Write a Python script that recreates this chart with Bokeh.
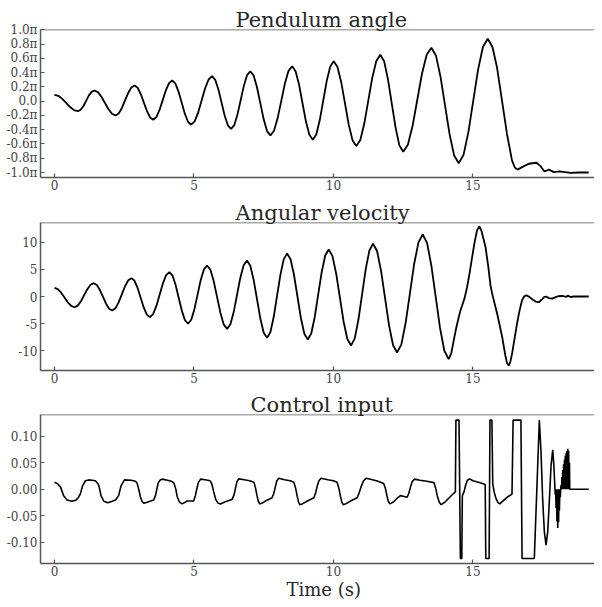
from bokeh.plotting import figure
from bokeh.models import Range1d, Span, Title, FixedTicker, CustomJSTickFormatter
from bokeh.layouts import column
from bokeh.embed import file_html
from bokeh.resources import INLINE

# ---------------- data ----------------
x_ticks = [0, 5, 10, 15]
angle_ticks = [-1.0, -0.8, -0.6, -0.4, -0.2, 0.0, 0.2, 0.4, 0.6, 0.8, 1.0]
vel_ticks = [-10, -5, 0, 5, 10]
ctl_ticks = [-0.10, -0.05, 0.0, 0.05, 0.10]

titles = ["Pendulum angle", "Angular velocity", "Control input"]
x_label = "Time (s)"

# pendulum angle, in units of pi
ang_t = [0.0, 0.14, 0.28, 0.42, 0.56, 0.70, 0.84,
         0.94, 1.04, 1.135, 1.23, 1.33, 1.43,
         1.557, 1.683, 1.81, 1.937, 2.063, 2.19,
         2.303, 2.417, 2.53, 2.643, 2.757, 2.87,
         2.982, 3.093, 3.205, 3.317, 3.428, 3.54,
         3.653, 3.767, 3.88, 3.993, 4.107, 4.22,
         4.333, 4.447, 4.56, 4.673, 4.787, 4.90,
         5.025, 5.15, 5.275, 5.40, 5.525, 5.65,
         5.763, 5.877, 5.99, 6.103, 6.217, 6.33,
         6.445, 6.56, 6.675, 6.79, 6.905, 7.02,
         7.14, 7.26, 7.38, 7.50, 7.62, 7.74,
         7.87, 8.00, 8.13, 8.26, 8.39, 8.52,
         8.643, 8.767, 8.89, 9.013, 9.137, 9.26,
         9.385, 9.51, 9.635, 9.76, 9.885, 10.01,
         10.145, 10.28, 10.415, 10.55, 10.685, 10.82,
         10.963, 11.107, 11.25, 11.393, 11.537, 11.68,
         11.817, 11.953, 12.09, 12.227, 12.363, 12.50,
         12.668, 12.837, 13.005, 13.173, 13.342, 13.51,
         13.673, 13.837, 14.0, 14.163, 14.327, 14.49,
         14.663, 14.837, 15.01, 15.183, 15.357, 15.53,
         15.70, 15.86, 16.04, 16.22, 16.40, 16.50, 16.60, 16.76, 17.0, 17.28,
         17.42, 17.56, 17.64, 17.72, 17.9, 18.1, 18.3, 18.5, 18.8, 19.15]
ang_v = [0.09, 0.075, 0.0325, -0.025, -0.0825, -0.125, -0.14,
         -0.121, -0.0675, 0.005, 0.0775, 0.1306, 0.15,
         0.1265, 0.0625, -0.025, -0.1125, -0.1766, -0.20,
         -0.172, -0.095, 0.01, 0.115, 0.192, 0.22,
         0.188, 0.10, -0.02, -0.14, -0.228, -0.26,
         -0.223, -0.1225, 0.015, 0.1525, 0.253, 0.29,
         0.2485, 0.135, -0.02, -0.175, -0.2885, -0.33,
         -0.284, -0.16, 0.01, 0.18, 0.304, 0.35,
         0.300, 0.165, -0.02, -0.205, -0.340, -0.39,
         -0.336, -0.1875, 0.015, 0.2175, 0.3657, 0.42,
         0.360, 0.195, -0.03, -0.255, -0.4197, -0.48,
         -0.415, -0.2375, 0.005, 0.2475, 0.425, 0.49,
         0.421, 0.2325, -0.025, -0.2825, -0.471, -0.54,
         -0.466, -0.265, 0.01, 0.285, 0.4863, 0.56,
         0.480, 0.2625, -0.035, -0.3325, -0.550, -0.63,
         -0.544, -0.31, 0.01, 0.33, 0.564, 0.65,
         0.559, 0.31, -0.03, -0.37, -0.619, -0.71,
         -0.612, -0.345, 0.02, 0.385, 0.652, 0.75,
         0.6415, 0.345, -0.06, -0.465, -0.761, -0.87,
         -0.753, -0.4335, 0.003, 0.4395, 0.759, 0.876,
         0.76, 0.48, 0.01, -0.46, -0.83, -0.93, -0.96, -0.925, -0.877, -0.863,
         -0.91, -0.985, -0.975, -0.96, -0.994, -0.985, -0.995, -1.005, -1.0, -1.0]

# angular velocity
vel_t = [0.0, 0.12, 0.24, 0.36, 0.48, 0.60, 0.72,
         0.835, 0.95, 1.065, 1.18, 1.295, 1.41,
         1.52, 1.63, 1.74, 1.85, 1.96, 2.07,
         2.185, 2.30, 2.415, 2.53, 2.645, 2.76,
         2.87, 2.98, 3.09, 3.20, 3.31, 3.42,
         3.537, 3.653, 3.77, 3.887, 4.003, 4.12,
         4.232, 4.343, 4.455, 4.567, 4.678, 4.79,
         4.903, 5.017, 5.13, 5.243, 5.357, 5.47,
         5.59, 5.71, 5.83, 5.95, 6.07, 6.19,
         6.308, 6.427, 6.545, 6.663, 6.782, 6.90,
         7.02, 7.14, 7.26, 7.38, 7.50, 7.62,
         7.74, 7.86, 7.98, 8.10, 8.22, 8.34,
         8.463, 8.587, 8.71, 8.833, 8.957, 9.08,
         9.205, 9.33, 9.455, 9.58, 9.705, 9.83,
         9.963, 10.097, 10.23, 10.363, 10.497, 10.63,
         10.762, 10.893, 11.025, 11.157, 11.288, 11.42,
         11.563, 11.707, 11.85, 11.993, 12.137, 12.28,
         12.433, 12.587, 12.74, 12.893, 13.047, 13.20,
         13.355, 13.51, 13.665, 13.82, 13.975, 14.13,
         14.22, 14.31, 14.40, 14.49, 14.55, 14.61, 14.70, 14.79, 14.88, 14.97, 15.06, 15.15, 15.23,
         15.31, 15.45, 15.55, 15.63, 15.70, 15.87, 16.05, 16.16, 16.22, 16.28,
         16.34, 16.40, 16.49, 16.58, 16.67, 16.76, 16.84, 16.92, 17.0, 17.15, 17.28, 17.36,
         17.46, 17.55, 17.62, 17.72, 17.84, 17.95, 18.05, 18.2, 18.35, 18.4, 18.5, 18.6, 19.15]
vel_v = [1.6, 1.361, 0.7075, -0.185, -1.0775, -1.731, -1.97,
         -1.674, -0.865, 0.24, 1.345, 2.154, 2.45,
         2.113, 1.1925, -0.065, -1.3225, -2.243, -2.58,
         -2.181, -1.0925, 0.395, 1.8825, 2.971, 3.37,
         2.89, 1.5775, -0.215, -2.0075, -3.32, -3.8,
         -3.245, -1.73, 0.34, 2.41, 3.925, 4.48,
         3.845, 2.11, -0.26, -2.63, -4.365, -5.0,
         -4.283, -2.325, 0.35, 3.025, 4.983, 5.7,
         4.92, 2.7875, -0.125, -3.0375, -5.17, -5.95,
         -5.109, -2.8125, 0.325, 3.4625, 5.759, 6.6,
         5.649, 3.05, -0.5, -4.05, -6.649, -7.6,
         -6.5615, -3.725, 0.15, 4.025, 6.8615, 7.9,
         6.841, 3.95, 0.0, -3.95, -6.841, -7.9,
         -6.791, -3.7625, 0.375, 4.5125, 7.541, 8.65,
         7.467, 4.2375, -0.175, -4.5875, -7.817, -9.0,
         -7.747, -4.325, 0.35, 5.025, 8.447, 9.7,
         8.36, 4.7, -0.3, -5.3, -8.96, -10.3,
         -8.846, -4.875, 0.55, 5.975, 9.946, 11.4,
         9.87, 5.68, -0.05, -5.78, -9.97, -11.5,
         -10.5, -8.1, -5.8, -3.8, -2.6, -1.7, -0.3, 1.7, 4.3, 7.2, 10.0, 12.2, 12.9,
         12.0, 9.1, 5.5, 2.0, 0.3, -3.2, -7.5, -10.8, -12.2, -12.7,
         -12.0, -10.6, -7.8, -5.0, -2.6, -0.7, 0.05, 0.2, 0.0, -0.6, -1.0, -1.05,
         -0.6, -0.1, 0.0, -0.3, -0.4, -0.15, 0.05, 0.1, -0.05, 0.15, -0.1, 0.0, 0.0]

# control input
ctl_t = [0.0, 0.1, 0.22, 0.33, 0.45, 0.63, 0.78, 0.86, 0.93, 1.01, 1.11, 1.23, 1.47, 1.55, 1.59, 1.67, 1.77, 1.91, 2.05, 2.19, 2.30, 2.39, 2.51,
         2.75, 2.90, 2.96, 3.02, 3.08, 3.14, 3.20, 3.30, 3.45, 3.56, 3.62, 3.67, 3.72, 3.80, 3.86,
         4.05, 4.20, 4.28, 4.35, 4.40, 4.48, 4.58, 4.66, 4.76, 4.99, 5.05, 5.10, 5.16, 5.24,
         5.40, 5.58, 5.64, 5.71, 5.78, 5.86, 5.95, 6.10, 6.25, 6.37, 6.44, 6.49, 6.54, 6.60,
         6.80, 7.00, 7.15, 7.20, 7.26, 7.31, 7.36, 7.45, 7.60, 7.80, 7.86, 7.92, 7.97, 8.04,
         8.25, 8.45, 8.58, 8.64, 8.70, 8.75, 8.79, 8.90, 9.10, 9.30, 9.36, 9.42, 9.48, 9.56,
         9.80, 10.00, 10.13, 10.19, 10.25, 10.30, 10.35, 10.45, 10.65, 10.85, 10.92, 11.00, 11.08, 11.17,
         11.40, 11.60, 11.80, 11.86, 11.92, 11.97, 12.02, 12.15, 12.30, 12.40, 12.50, 12.64, 12.70, 12.76, 12.82, 12.90,
         13.10, 13.35, 13.60, 13.66, 13.72, 13.79, 13.86, 14.00, 14.15, 14.31, 14.37,
         14.39, 14.50, 14.55, 14.60, 14.62, 14.68, 14.74, 14.80, 14.88, 15.00, 15.20, 15.39, 15.44,
         15.46, 15.58, 15.61, 15.68, 15.71, 15.76, 15.83, 15.90, 15.96, 16.10, 16.25, 16.40,
         16.44, 16.72, 16.76, 17.20, 17.38, 17.44, 17.50, 17.56, 17.62, 17.68, 17.74, 17.80, 17.86, 17.90, 17.94,
         17.95, 17.965, 17.98, 17.995, 18.01, 18.025, 18.04, 18.055, 18.07, 18.085, 18.10, 18.115,
         18.13, 18.145, 18.16, 18.175, 18.19, 18.205, 18.22, 18.235, 18.25, 18.265, 18.28, 18.295,
         18.31, 18.325, 18.34, 18.355, 18.37, 18.385, 18.40, 18.415, 18.43, 18.445, 18.46, 18.47, 19.15]
ctl_u = [0.013, 0.011, 0.004, -0.012, -0.020, -0.0225, -0.020, -0.015, -0.0087, 0.007, 0.016, 0.0176, 0.016, 0.011, 0.007, -0.012, -0.0225, -0.0255, -0.023, -0.020, -0.012, 0.007, 0.0176,
         0.017, 0.015, 0.012, 0.0, -0.014, -0.023, -0.026, -0.025, -0.022, -0.020, -0.012, 0.0, 0.012, 0.018, 0.019,
         0.017, 0.015, 0.012, 0.0, -0.014, -0.024, -0.0275, -0.025, -0.022, -0.022, -0.012, 0.0, 0.013, 0.019,
         0.018, 0.016, 0.010, -0.005, -0.019, -0.026, -0.0275, -0.024, -0.021, -0.019, -0.010, 0.002, 0.014, 0.0195,
         0.018, 0.016, 0.013, 0.004, -0.012, -0.023, -0.0275, -0.026, -0.021, -0.016, -0.008, 0.005, 0.016, 0.0206,
         0.018, 0.016, 0.013, 0.003, -0.013, -0.024, -0.029, -0.027, -0.021, -0.016, -0.007, 0.006, 0.016, 0.0206,
         0.018, 0.016, 0.013, 0.003, -0.013, -0.024, -0.029, -0.027, -0.021, -0.016, -0.007, 0.006, 0.016, 0.0206,
         0.018, 0.015, 0.011, 0.002, -0.013, -0.023, -0.0275, -0.024, -0.016, -0.012, -0.013, -0.015, -0.008, 0.004, 0.014, 0.019,
         0.017, 0.015, 0.0125, 0.003, -0.012, -0.024, -0.029, -0.024, -0.016, -0.0075, -0.005,
         0.13, 0.13, -0.13, -0.13, -0.012, -0.005, 0.008, 0.017, 0.0195, 0.016, 0.013, 0.010, 0.009,
         -0.13, -0.13, 0.13, 0.13, 0.010, -0.005, -0.018, -0.025, -0.0275, -0.021, -0.014, -0.009,
         0.13, 0.13, -0.13, -0.13, 0.13, 0.07, -0.02, -0.08, -0.105, -0.08, -0.02, 0.045, 0.074, 0.045, 0.0,
         -0.01, 0.0, -0.035, 0.0, -0.06, 0.0, -0.073, 0.0, -0.062, 0.0, -0.04, 0.0,
         -0.015, 0.0, 0.008, 0.0, 0.023, 0.0, 0.036, 0.0, 0.047, 0.0, 0.056, 0.0,
         0.063, 0.0, 0.068, 0.0, 0.072, 0.0, 0.076, 0.0, 0.072, 0.0, 0.05, 0.0, 0.0]

# ---------------- styling ----------------
SERIF = "DejaVu Serif"
SPINE = "#555555"
TICKTXT = "#444444"
TITLETXT = "#262626"
X_RANGE = (-0.5, 19.357)
TITLE_SIZE = "21px"
TICK_SIZE = "12px"
XLABEL_SIZE = "18px"
TITLE_OFFSETS = [195, 195, 210]


def make_panel(height, top, bottom, yr, yticks, fmt_code, title, offset):
    p = figure(width=594, height=height,
               x_range=Range1d(*X_RANGE), y_range=Range1d(*yr),
               output_backend="svg", toolbar_location=None,
               min_border_left=40, min_border_right=0,
               min_border_top=top, min_border_bottom=bottom)
    p.title = Title(text=title, align="left", offset=offset, standoff=-4,
                    text_font=SERIF, text_font_size=TITLE_SIZE,
                    text_font_style="normal", text_color=TITLETXT)
    p.outline_line_color = None
    p.xgrid.visible = False
    p.ygrid.visible = False
    p.background_fill_color = "white"
    p.border_fill_color = "white"
    for ax in (p.xaxis[0], p.yaxis[0]):
        ax.axis_line_color = SPINE
        ax.axis_line_width = 1.5
        ax.major_tick_line_color = SPINE
        ax.major_tick_line_width = 1.2
        ax.major_tick_in = 4
        ax.major_tick_out = 0
        ax.minor_tick_line_color = None
        ax.major_label_text_font = SERIF
        ax.major_label_text_font_size = TICK_SIZE
        ax.major_label_text_color = TICKTXT
    p.xaxis[0].major_label_standoff = 2
    p.yaxis[0].major_label_standoff = 3
    p.xaxis[0].ticker = FixedTicker(ticks=x_ticks)
    p.yaxis[0].ticker = FixedTicker(ticks=yticks)
    p.yaxis[0].formatter = CustomJSTickFormatter(code=fmt_code)
    # top spine
    p.add_layout(Span(location=yr[1], dimension="width",
                      line_color=SPINE, line_width=1.5))
    return p


ang_fmt = "if (Math.abs(tick) < 1e-9) { return '0.0'; } return tick.toFixed(1) + '\u03c0';"
vel_fmt = "return tick.toFixed(0);"
ctl_fmt = "if (Math.abs(tick) < 1e-9) { return '0.00'; } return tick.toFixed(2);"

p1 = make_panel(196, 29, 19, (-1.07, 1.005), angle_ticks, ang_fmt, titles[0], TITLE_OFFSETS[0])
p1.line(ang_t, ang_v, line_color="black", line_width=1.8)

p2 = make_panel(194, 26, 20, (-13.6, 13.6), vel_ticks, vel_fmt, titles[1], TITLE_OFFSETS[1])
p2.line(vel_t, vel_v, line_color="black", line_width=1.8)

p3 = make_panel(209, 24, 36, (-0.1395, 0.1405), ctl_ticks, ctl_fmt, titles[2], TITLE_OFFSETS[2])
p3.line(ctl_t, ctl_u, line_color="black", line_width=1.6)
p3.add_layout(Title(text=x_label, align="left", offset=246, standoff=-4,
                    text_font=SERIF, text_font_size=XLABEL_SIZE,
                    text_font_style="normal", text_color=TITLETXT), "below")

layout = column(p1, p2, p3, spacing=0)
open("out.html", "w").write(file_html(layout, INLINE))
